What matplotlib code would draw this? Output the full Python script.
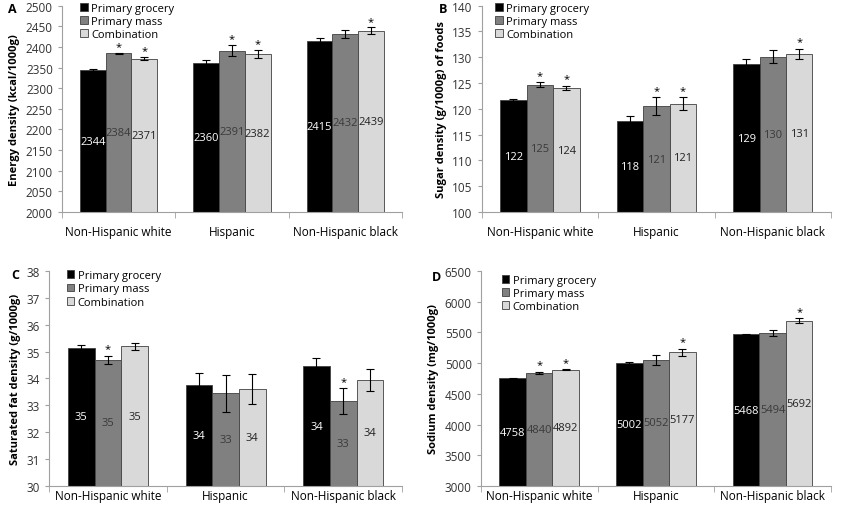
import matplotlib.pyplot as plt
import numpy as np

plt.rcParams["font.family"] = ["Open Sans", "DejaVu Sans"]

groups = ["Non-Hispanic white", "Hispanic", "Non-Hispanic black"]
series = ["Primary grocery", "Primary mass", "Combination"]

# rows = series, columns = groups
energy = [[2344, 2360, 2415], [2384, 2391, 2432], [2371, 2382, 2439]]
energy_err = [[3, 8, 6], [2, 13, 10], [4, 10, 8]]
energy_lbl = [["2344", "2360", "2415"], ["2384", "2391", "2432"], ["2371", "2382", "2439"]]
energy_star = [[0, 0, 0], [1, 1, 0], [1, 1, 1]]

sugar = [[121.7, 117.7, 128.6], [124.7, 120.5, 130.1], [124.0, 121.0, 130.6]]
sugar_err = [[0.2, 1.0, 1.0], [0.4, 1.7, 1.2], [0.4, 1.2, 1.0]]
sugar_lbl = [["122", "118", "129"], ["125", "121", "130"], ["124", "121", "131"]]
sugar_star = [[0, 0, 0], [1, 1, 0], [1, 1, 1]]

satfat = [[35.15, 33.75, 34.45], [34.7, 33.45, 33.15], [35.2, 33.6, 33.95]]
satfat_err = [[0.08, 0.45, 0.32], [0.15, 0.68, 0.48], [0.13, 0.55, 0.42]]
satfat_lbl = [["35", "34", "34"], ["35", "33", "33"], ["35", "34", "34"]]
satfat_star = [[0, 0, 0], [1, 0, 1], [0, 0, 0]]

sodium = [[4758, 5002, 5468], [4840, 5052, 5494], [4892, 5177, 5692]]
sodium_err = [[8, 10, 12], [20, 80, 50], [10, 60, 40]]
sodium_lbl = [["4758", "5002", "5468"], ["4840", "5052", "5494"], ["4892", "5177", "5692"]]
sodium_star = [[0, 0, 0], [1, 0, 0], [1, 1, 1]]

colors = ["#000000", "#808080", "#d9d9d9"]
text_colors = ["white", "#3a3a3a", "#222222"]


def panel(fig, rect, letter, ylabel, vals, errs, lbls, stars, ymin, ymax, step,
          letter_xy, legend_xy, star_off, xpad):
    ax = fig.add_axes(rect)
    x = np.arange(len(groups))
    w = 0.227
    for i, name in enumerate(series):
        xs = x + (i - 1) * w
        ax.bar(xs, np.array(vals[i]) - ymin, w, bottom=ymin, color=colors[i],
               edgecolor="#404040", linewidth=0.6, label=name, zorder=2)
        ax.errorbar(xs, vals[i], yerr=errs[i], fmt="none", ecolor="black",
                    elinewidth=0.8, capsize=3, capthick=0.8, zorder=3)
        for j in range(len(groups)):
            ax.text(xs[j], (ymin + vals[i][j]) / 2, lbls[i][j], ha="center",
                    va="center", fontsize=8, color=text_colors[i], zorder=4)
            if stars[i][j]:
                ax.text(xs[j], vals[i][j] + errs[i][j] + star_off, "*",
                        ha="center", va="bottom", fontsize=8, zorder=4)
    ax.set_xlim(-0.5, 2.5)
    ax.set_ylim(ymin, ymax)
    ax.set_yticks(np.arange(ymin, ymax + step / 2, step))
    ax.set_xticks(x)
    ax.set_xticklabels(groups, fontsize=8.5)
    ax.set_xticks([-0.5, 0.5, 1.5, 2.5], minor=True)
    ax.tick_params(axis="x", which="major", length=0, pad=xpad)
    ax.tick_params(axis="x", which="minor", length=4, color="#a0a0a0")
    ax.tick_params(axis="y", length=3, color="#a0a0a0", labelsize=8.5,
                   labelcolor="#333333")
    for s in ["top", "right"]:
        ax.spines[s].set_visible(False)
    for s in ["left", "bottom"]:
        ax.spines[s].set_color("#a0a0a0")
    ax.set_ylabel(ylabel, fontsize=8, fontweight="bold")
    fig.text(letter_xy[0], letter_xy[1], letter, fontsize=9, fontweight="bold",
             ha="center", va="center")
    ax.legend(loc="upper left", bbox_to_anchor=legend_xy,
              bbox_transform=fig.transFigure, frameon=False, fontsize=8,
              handlelength=0.7, handleheight=0.7, handletextpad=0.3,
              labelspacing=0.2, borderpad=0)
    return ax


def main():
    fig = plt.figure(figsize=(8.48, 5.06), dpi=100)
    panel(fig, [0.073, 0.579, 0.401, 0.408], "A", "Energy density (kcal/1000g)",
          energy, energy_err, energy_lbl, energy_star, 2000, 2500, 50,
          (0.015, 0.982), (0.088, 1.004), 2, 9)
    panel(fig, [0.568, 0.579, 0.412, 0.408], "B", "Sugar density (g/1000g) of foods",
          sugar, sugar_err, sugar_lbl, sugar_star, 100, 140, 5,
          (0.522, 0.982), (0.577, 1.004), 0.3, 9)
    panel(fig, [0.058, 0.0375, 0.416, 0.425], "C", "Saturated fat density (g/1000g)",
          satfat, satfat_err, satfat_lbl, satfat_star, 30, 38, 1,
          (0.018, 0.456), (0.072, 0.475), 0.05, 2)
    panel(fig, [0.567, 0.0375, 0.413, 0.425], "D", "Sodium density (mg/1000g)",
          sodium, sodium_err, sodium_lbl, sodium_star, 3000, 6500, 500,
          (0.515, 0.452), (0.585, 0.466), 20, 2)
    fig.savefig("out.png", dpi=100)


if __name__ == "__main__":
    main()
